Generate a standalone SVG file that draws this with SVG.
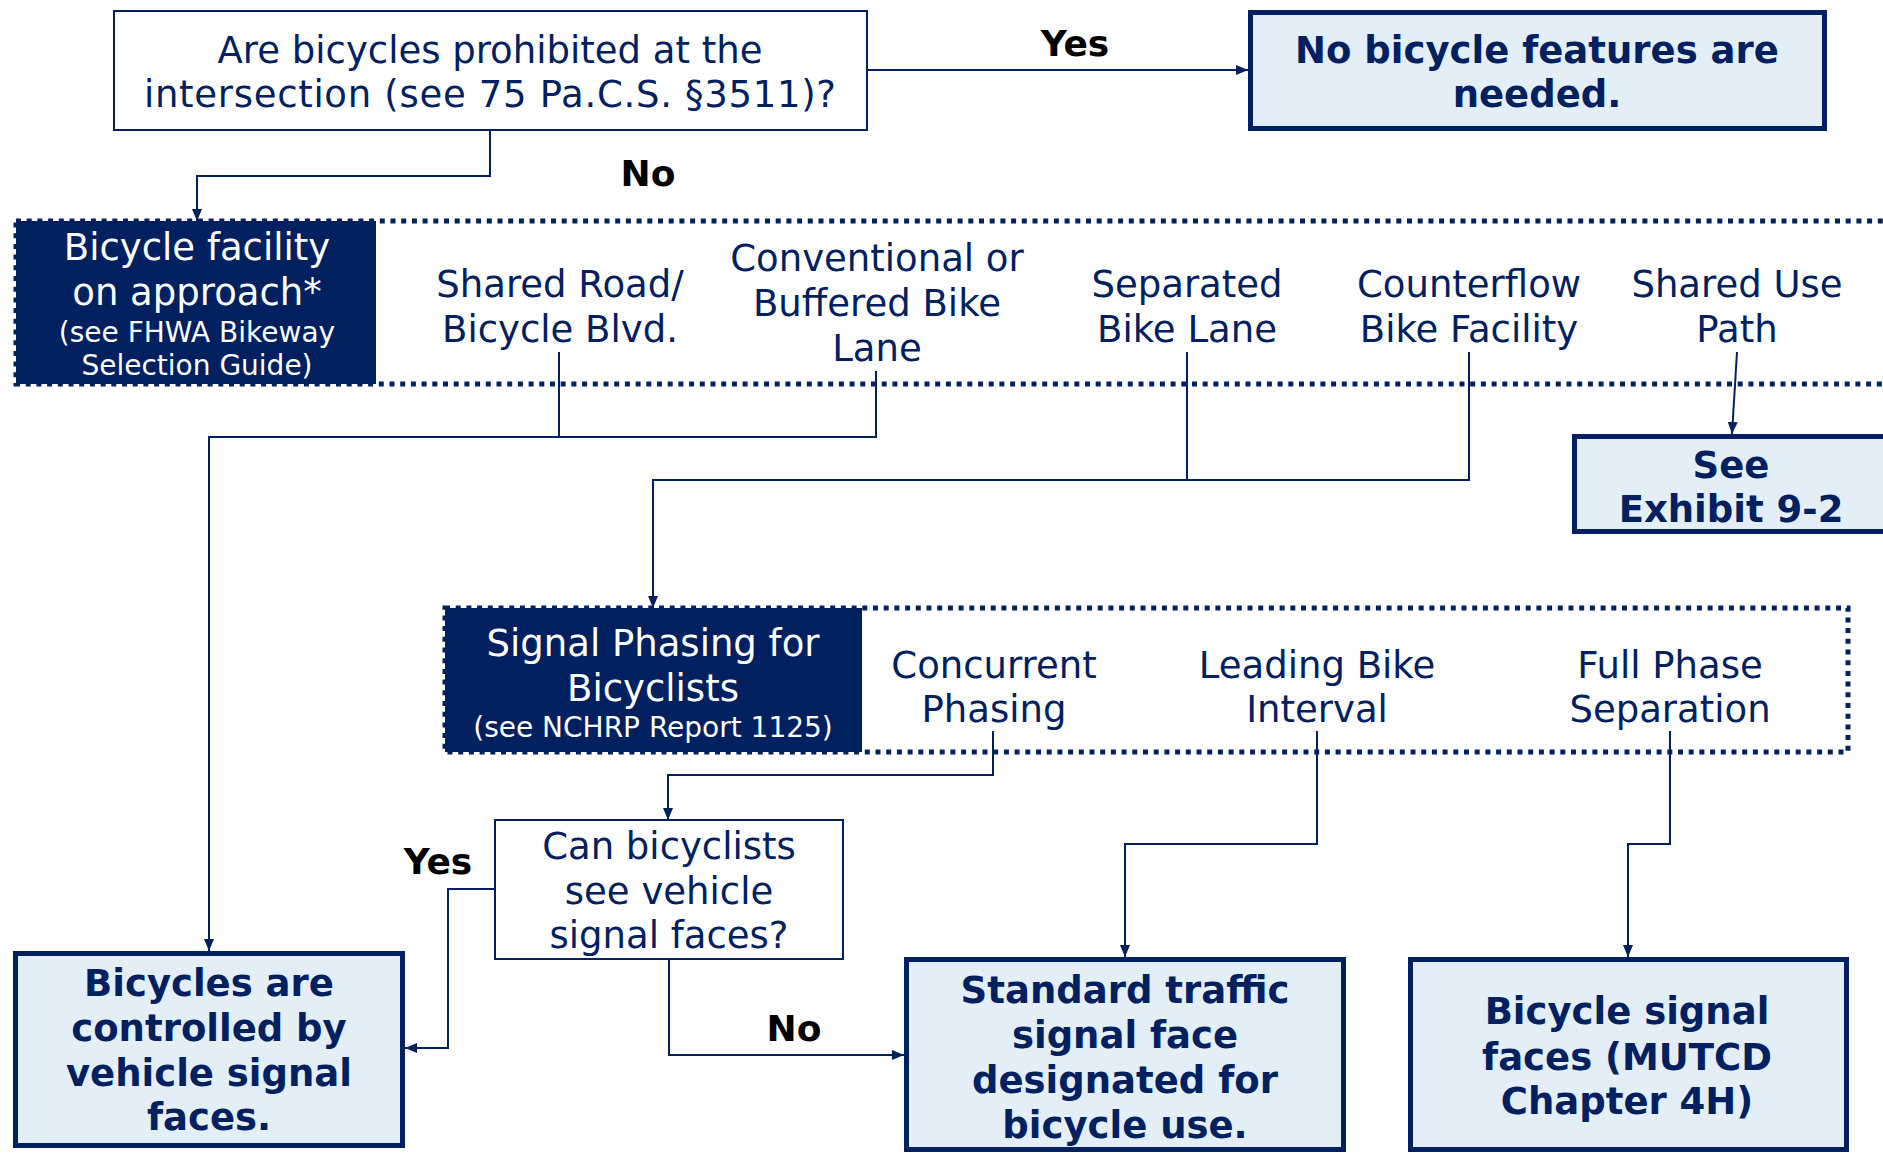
<svg xmlns="http://www.w3.org/2000/svg" width="1883" height="1153" viewBox="0 0 1883 1153">
<defs>
<marker id="arr" viewBox="0 0 12 10" refX="12" refY="5" markerWidth="12" markerHeight="10" markerUnits="userSpaceOnUse" orient="auto">
<path d="M0,0 L12,5 L0,10 z" fill="#002060"/>
</marker>
<style>
text{font-family:"DejaVu Sans","Verdana",sans-serif;text-anchor:middle}
.t{font-size:37px;fill:#002060}
.w{font-size:37px;fill:#ffffff}
.ws{font-size:28px;fill:#ffffff}
.b{font-size:37px;fill:#002060;font-weight:bold}
.lbl{font-size:36px;fill:#000000;font-weight:bold}
.q{fill:#ffffff;stroke:#002060;stroke-width:2}
.res{fill:#E3EEF6;stroke:#002060;stroke-width:5}
.dark{fill:#002060}
.dot{fill:none;stroke:#002060;stroke-width:5;stroke-dasharray:5 5.7}
.c{fill:none;stroke:#002060;stroke-width:2}
.ca{fill:none;stroke:#002060;stroke-width:2;marker-end:url(#arr)}
</style>
</defs>
<rect width="1883" height="1153" fill="#ffffff"/>

<g id="q1">
<rect class="q" x="114" y="11" width="753" height="119"/>
<text class="t" x="490" y="63">Are bicycles prohibited at the</text>
<text class="t" x="490" y="107" textLength="692" lengthAdjust="spacing">intersection (see 75 Pa.C.S. §3511)?</text>
</g>

<g id="no-features">
<rect class="res" x="1250.5" y="12.5" width="574" height="116"/>
<text class="b" x="1537" y="63">No bicycle features are</text>
<text class="b" x="1537" y="107">needed.</text>
</g>

<g id="facility-band">
<rect class="dark" x="16" y="221" width="360" height="163"/>
<rect class="dot" x="16" y="221" width="1900" height="163"/>
<text class="w" x="197" y="260">Bicycle facility</text>
<text class="w" x="197" y="305">on approach*</text>
<text class="ws" x="197" y="342">(see FHWA Bikeway</text>
<text class="ws" x="197" y="375">Selection Guide)</text>
</g>

<g id="opt-shared-road">
<text class="t" x="560" y="297">Shared Road/</text>
<text class="t" x="560" y="342">Bicycle Blvd.</text>
</g>
<g id="opt-conventional">
<text class="t" x="877" y="271">Conventional or</text>
<text class="t" x="877" y="316">Buffered Bike</text>
<text class="t" x="877" y="361">Lane</text>
</g>
<g id="opt-separated">
<text class="t" x="1187" y="297">Separated</text>
<text class="t" x="1187" y="342">Bike Lane</text>
</g>
<g id="opt-counterflow">
<text class="t" x="1469" y="297">Counterflow</text>
<text class="t" x="1469" y="342">Bike Facility</text>
</g>
<g id="opt-shared-use">
<text class="t" x="1737" y="297">Shared Use</text>
<text class="t" x="1737" y="342">Path</text>
</g>

<g id="see-exhibit">
<rect class="res" x="1574.5" y="436.5" width="400" height="95"/>
<text class="b" x="1731" y="478">See</text>
<text class="b" x="1731" y="522">Exhibit 9-2</text>
</g>

<g id="phasing-band">
<rect class="dark" x="445" y="608" width="417" height="144"/>
<rect class="dot" x="445" y="608" width="1403" height="144"/>
<text class="w" x="653" y="656">Signal Phasing for</text>
<text class="w" x="653" y="701">Bicyclists</text>
<text class="ws" x="653" y="737">(see NCHRP Report 1125)</text>
</g>

<g id="opt-concurrent">
<text class="t" x="994" y="678">Concurrent</text>
<text class="t" x="994" y="722">Phasing</text>
</g>
<g id="opt-leading">
<text class="t" x="1317" y="678">Leading Bike</text>
<text class="t" x="1317" y="722">Interval</text>
</g>
<g id="opt-full">
<text class="t" x="1670" y="678">Full Phase</text>
<text class="t" x="1670" y="722">Separation</text>
</g>

<g id="q2">
<rect class="q" x="495" y="820" width="348" height="139"/>
<text class="t" x="669" y="859">Can bicyclists</text>
<text class="t" x="669" y="904">see vehicle</text>
<text class="t" x="669" y="948">signal faces?</text>
</g>

<g id="vehicle-faces">
<rect class="res" x="15.5" y="953.5" width="387" height="192"/>
<text class="b" x="209" y="996">Bicycles are</text>
<text class="b" x="209" y="1041">controlled by</text>
<text class="b" x="209" y="1086">vehicle signal</text>
<text class="b" x="209" y="1130">faces.</text>
</g>

<g id="standard-face">
<rect class="res" x="906.5" y="959.5" width="437" height="190"/>
<text class="b" x="1125" y="1003">Standard traffic</text>
<text class="b" x="1125" y="1048">signal face</text>
<text class="b" x="1125" y="1093">designated for</text>
<text class="b" x="1125" y="1138">bicycle use.</text>
</g>

<g id="bicycle-faces">
<rect class="res" x="1410.5" y="959.5" width="436" height="190"/>
<text class="b" x="1627" y="1024">Bicycle signal</text>
<text class="b" x="1627" y="1070">faces (MUTCD</text>
<text class="b" x="1627" y="1114">Chapter 4H)</text>
</g>

<g id="connectors">
<path class="ca" d="M867,70 H1248"/>
<path class="ca" d="M490,130 V176 H197 V221"/>
<path class="c" d="M559,352 V437"/>
<path class="ca" d="M876,371 V437 H209 V951"/>
<path class="c" d="M1187,352 V480"/>
<path class="ca" d="M1469,352 V480 H653 V608"/>
<path class="ca" d="M1737,352 L1732,434"/>
<path class="ca" d="M993,731 V775 H668 V820"/>
<path class="ca" d="M1317,731 V844 H1125 V957"/>
<path class="ca" d="M1670,731 V844 H1628 V957"/>
<path class="ca" d="M495,889 H448 V1048 H405"/>
<path class="ca" d="M669,959 V1055 H904"/>
<text class="lbl" x="1075" y="56">Yes</text>
<text class="lbl" x="648" y="186">No</text>
<text class="lbl" x="438" y="874">Yes</text>
<text class="lbl" x="794" y="1041">No</text>
</g>
</svg>
